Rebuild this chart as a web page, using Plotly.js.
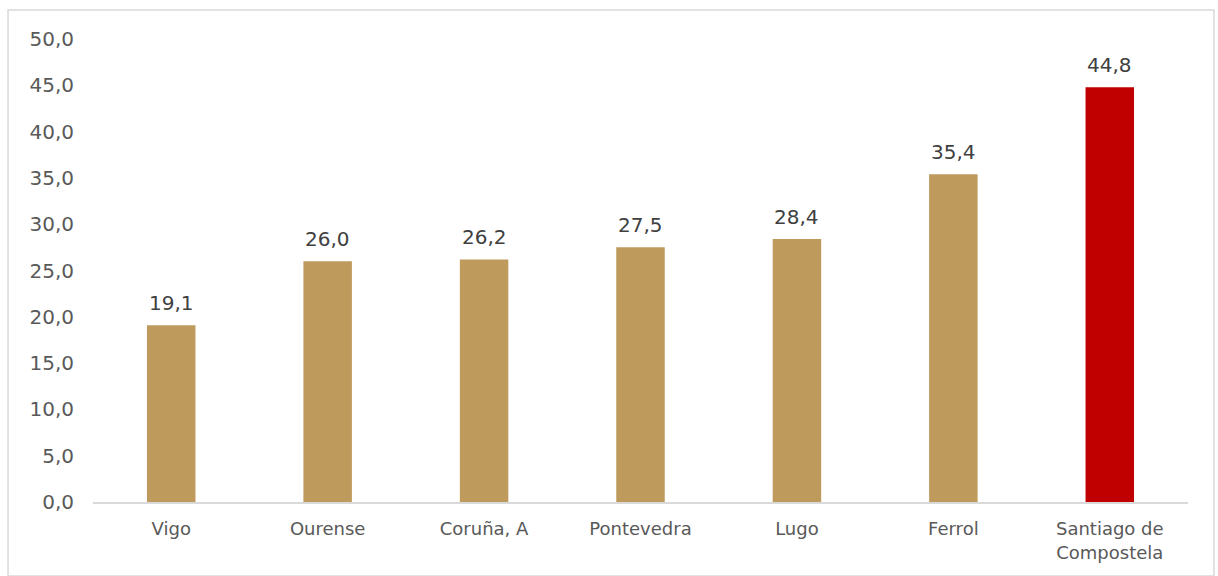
<!DOCTYPE html>
<html>
<head>
<meta charset="utf-8">
<script src="https://cdn.plot.ly/plotly-3.0.1.min.js"></script>
<style>html,body{margin:0;padding:0;background:#fff;}#chart{width:1218px;height:576px;}</style>
</head>
<body>
<div id="chart"></div>
<script>
const categories = ["Vigo", "Ourense", "Coruña, A", "Pontevedra", "Lugo", "Ferrol", "Santiago de<br>Compostela"];
const values = [19.1, 26.0, 26.2, 27.5, 28.4, 35.4, 44.8];
const barColors = ["#BE9A5C", "#BE9A5C", "#BE9A5C", "#BE9A5C", "#BE9A5C", "#BE9A5C", "#C00000"];
const yTicks = [0, 5, 10, 15, 20, 25, 30, 35, 40, 45, 50];

const trace = {
  type: "bar",
  x: categories,
  y: values,
  marker: {color: barColors},
  width: 0.31,
  hoverinfo: "none"
};

const labelAnnotations = categories.map((c, i) => ({
  x: c,
  y: values[i],
  xref: "x", yref: "y",
  text: values[i].toFixed(1).replace(".", ","),
  showarrow: false,
  yanchor: "bottom",
  yshift: 8,
  font: {family: "DejaVu Sans", size: 20, color: "#404040"}
}));

const layout = {
  width: 1218,
  height: 576,
  margin: {l: 93, r: 30, t: 39, b: 74},
  separators: ",.",
  paper_bgcolor: "#ffffff",
  plot_bgcolor: "#ffffff",
  showlegend: false,
  font: {family: "DejaVu Sans", color: "#595959"},
  xaxis: {
    type: "category",
    showgrid: false,
    showline: true,
    linecolor: "#D9D9D9",
    linewidth: 1.5,
    ticks: "",
    tickfont: {family: "DejaVu Sans", size: 18, color: "#595959"},
    ticklabelstandoff: 10
  },
  yaxis: {
    range: [0, 50],
    tickvals: yTicks,
    tickformat: ".1f",
    showgrid: false,
    zeroline: false,
    showline: false,
    ticks: "",
    tickfont: {family: "DejaVu Sans", size: 20, color: "#595959"},
    ticklabelstandoff: 18
  },
  annotations: labelAnnotations,
  shapes: [{
    type: "rect",
    xref: "paper", yref: "paper",
    x0: -0.0776, x1: 1.0237, y0: -0.16, y1: 1.0626,
    line: {color: "#D9D9D9", width: 1.5},
    fillcolor: "rgba(0,0,0,0)",
    layer: "below"
  }]
};

Plotly.newPlot("chart", [trace], layout, {staticPlot: true, displayModeBar: false});
</script>
</body>
</html>
